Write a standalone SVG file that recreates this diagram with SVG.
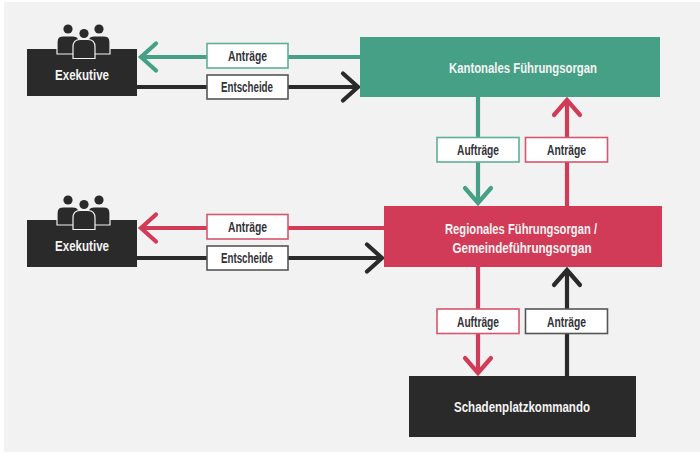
<svg xmlns="http://www.w3.org/2000/svg" width="700" height="457" viewBox="0 0 700 457">
<style>
text{font-family:"Liberation Sans",Arial,sans-serif;font-weight:700;text-anchor:middle}
.n{font-size:14px;fill:#f4f4f4}
.l{font-size:14px;fill:#333338}
.c{fill:none;stroke-width:4.2}
.h{fill:none;stroke-width:4.2;stroke-linecap:round;stroke-linejoin:miter}
.g{stroke:#46a085}.r{stroke:#d23b57}.k{stroke:#2a2a2a}
.b{fill:#fff;stroke-width:1.6}
.bg{stroke:#5fae96}.br{stroke:#d6566e}.bk{stroke:#555}
.p{fill:#2a2a2a;stroke:#f2f2f2;stroke-width:1.2}
</style>
<defs>
<g id="people">
<circle cx="68" cy="29" r="4.6" fill="#2a2a2a"/>
<circle cx="99" cy="29" r="4.6" fill="#2a2a2a"/>
<path class="p" d="M57 54V42Q57 36 63 36H73Q79 36 79 42V54Z"/>
<path class="p" d="M88 54V42Q88 36 94 36H104Q110 36 110 42V54Z"/>
<circle cx="84" cy="33.500" r="4.600" fill="#2a2a2a"/>
<path class="p" d="M73 58.500V47Q73 39.500 80 39.500H88Q95 39.500 95 47V58.500Z"/>
</g>
</defs>
<rect width="700" height="457" fill="#fff"/>
<rect x="4" y="2" width="696" height="450" fill="#f2f2f2"/>
<g id="connectors">
<path class="c g" d="M360 57H141"/><path class="h g" d="M156 43.500L141 57L156 70.500"/>
<path class="c k" d="M137 87H357"/><path class="h k" d="M343 73.500L358 87L343 100.500"/>
<path class="c r" d="M384 228H141"/><path class="h r" d="M156 214.500L141 228L156 241.500"/>
<path class="c k" d="M137 258H381"/><path class="h k" d="M367 244.500L382 258L367 271.500"/>
<path class="c g" d="M478 97V203"/><path class="h g" d="M465 188L478 203L491 188"/>
<path class="c r" d="M567 206V100"/><path class="h r" d="M554 115L567 100L580 115"/>
<path class="c r" d="M478 267V374"/><path class="h r" d="M465 358L478 373L491 358"/>
<path class="c k" d="M567 376V270"/><path class="h k" d="M554 285L567 270L580 285"/>
</g>
<g id="exekutive-1">
<rect x="27" y="49" width="110" height="47" fill="#2a2a2a"/>
<use href="#people"/>
<text class="n" x="82" y="80" textLength="54" lengthAdjust="spacingAndGlyphs">Exekutive</text>
</g>
<g id="exekutive-2">
<rect x="27" y="220" width="110" height="47" fill="#2a2a2a"/>
<use href="#people" y="171"/>
<text class="n" x="82" y="251" textLength="54" lengthAdjust="spacingAndGlyphs">Exekutive</text>
</g>
<g id="kantonal">
<rect x="360" y="37" width="300" height="60" fill="#46a085"/>
<text class="n" x="523" y="72.500" textLength="148" lengthAdjust="spacingAndGlyphs">Kantonales Führungsorgan</text>
</g>
<g id="regional">
<rect x="384" y="206" width="278" height="61" fill="#d23b57"/>
<text class="n" x="521" y="234" textLength="152" lengthAdjust="spacingAndGlyphs">Regionales Führungsorgan /</text>
<text class="n" x="522" y="253" textLength="139" lengthAdjust="spacingAndGlyphs">Gemeindeführungsorgan</text>
</g>
<g id="schadenplatz">
<rect x="409" y="376" width="227" height="61" fill="#2a2a2a"/>
<text class="n" x="522" y="412" textLength="136" lengthAdjust="spacingAndGlyphs">Schadenplatzkommando</text>
</g>
<g id="label-antraege-1"><rect class="b bg" x="207" y="43.500" width="81" height="24.500"/><text class="l" x="247.500" y="61" textLength="39" lengthAdjust="spacingAndGlyphs">Anträge</text></g>
<g id="label-entscheide-1"><rect class="b bk" x="207" y="75" width="81" height="24"/><text class="l" x="247" y="92" textLength="52" lengthAdjust="spacingAndGlyphs">Entscheide</text></g>
<g id="label-antraege-2"><rect class="b br" x="207" y="214.500" width="81" height="24.500"/><text class="l" x="247.500" y="232" textLength="39" lengthAdjust="spacingAndGlyphs">Anträge</text></g>
<g id="label-entscheide-2"><rect class="b bk" x="207" y="246" width="81" height="24"/><text class="l" x="247" y="263" textLength="52" lengthAdjust="spacingAndGlyphs">Entscheide</text></g>
<g id="label-auftraege-1"><rect class="b bg" x="437" y="137.500" width="82" height="24.500"/><text class="l" x="478" y="155" textLength="42" lengthAdjust="spacingAndGlyphs">Aufträge</text></g>
<g id="label-antraege-3"><rect class="b br" x="525.500" y="137.500" width="82" height="24.500"/><text class="l" x="566.500" y="155" textLength="39" lengthAdjust="spacingAndGlyphs">Anträge</text></g>
<g id="label-auftraege-2"><rect class="b br" x="437" y="309" width="82" height="24.500"/><text class="l" x="478" y="327" textLength="42" lengthAdjust="spacingAndGlyphs">Aufträge</text></g>
<g id="label-antraege-4"><rect class="b bk" x="525.500" y="309" width="82" height="24.500"/><text class="l" x="566.500" y="327" textLength="39" lengthAdjust="spacingAndGlyphs">Anträge</text></g>
</svg>
